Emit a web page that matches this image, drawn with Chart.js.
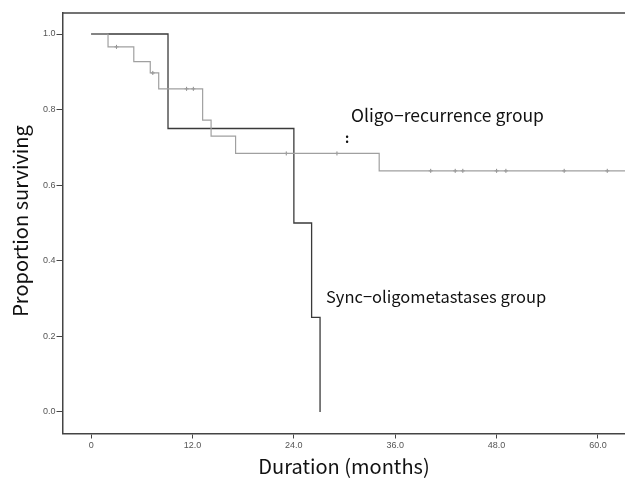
<!DOCTYPE html>
<html>
<head>
<meta charset="utf-8">
<script src="https://cdn.jsdelivr.net/npm/chart.js@4/dist/chart.umd.min.js"></script>
<style>
  html, body { margin: 0; padding: 0; background: #fff; overflow: hidden; }
  canvas { display: block; }
</style>
</head>
<body>
<canvas id="c" width="625" height="483" style="width:625px;height:483px"></canvas>
<script>
// ---- Data ----
const xTicks = [0, 12, 24, 36, 48, 60];
const yTicks = [0, 0.2, 0.4, 0.6, 0.8, 1.0];

// Sync-oligometastases group (Kaplan-Meier step points: time, survival after event)
const syncTimes    = [0, 9.1, 24.0, 26.1, 27.1];
const syncSurvival = [1.0, 0.75, 0.50, 0.25, 0.0];

// Oligo-recurrence group
const oligoTimes    = [0, 2.0, 5.05, 7.0, 8.0, 13.2, 14.2, 17.1, 34.1, 64.0];
const oligoSurvival = [1.0, 0.966, 0.927, 0.897, 0.855, 0.772, 0.730, 0.684, 0.638, 0.638];

// Censored observations (oligo-recurrence group)
const oligoCensorTimes = [3.0, 7.3, 11.3, 12.1, 23.1, 29.1, 40.2, 43.1, 44.0, 48.0, 49.1, 56.0, 61.1];

const labelOligo = 'Oligo\u2212recurrence group';
const labelSync  = 'Sync\u2212oligometastases group';
const xTitle = 'Duration (months)';
const yTitle = 'Proportion surviving';

function toPoints(ts, ss) { return ts.map((t, i) => ({ x: t, y: ss[i] })); }
function levelAt(ts, ss, t) {
  let v = ss[0];
  for (let i = 0; i < ts.length; i++) { if (ts[i] <= t) v = ss[i]; }
  return v;
}
const censorPoints = oligoCensorTimes.map(t => ({ x: t, y: levelAt(oligoTimes, oligoSurvival, t) }));

const textPlugin = {
  id: 'texts',
  afterDraw(chart) {
    const { ctx, chartArea } = chart;
    ctx.save();
    ctx.strokeStyle = '#444';
    ctx.lineWidth = 1.5;
    ctx.beginPath();
    ctx.moveTo(chartArea.left, chartArea.top);
    ctx.lineTo(chart.width + 2, chartArea.top);
    ctx.stroke();

    ctx.fillStyle = '#111';
    ctx.font = '20px "Noto Sans CJK JP", "Noto Sans", sans-serif';
    ctx.textAlign = 'center';
    ctx.textBaseline = 'middle';
    ctx.fillText(xTitle, 344, 466);
    ctx.save();
    ctx.translate(20, 221);
    ctx.rotate(-Math.PI / 2);
    ctx.fillText(yTitle, 0, 0);
    ctx.restore();

    ctx.textAlign = 'left';
    ctx.font = '17.5px "Noto Sans CJK JP", "Noto Sans", sans-serif';
    ctx.fillText(labelOligo, 351, 115);
    ctx.font = '16.5px "Noto Sans CJK JP", "Noto Sans", sans-serif';
    ctx.fillText(labelSync, 326, 297);
    ctx.font = 'bold 13px "Noto Sans CJK JP", sans-serif';
    ctx.textAlign = 'center';
    ctx.fillText(':', 347, 138);
    ctx.restore();
  }
};

new Chart(document.getElementById('c'), {
  type: 'line',
  data: {
    datasets: [
      { label: 'Oligo-recurrence', data: toPoints(oligoTimes, oligoSurvival), stepped: 'before',
        borderColor: '#a0a0a0', borderWidth: 1.2, pointRadius: 0, pointHoverRadius: 0, fill: false },
      { label: 'Oligo censored', type: 'scatter', data: censorPoints, pointStyle: 'cross', pointRadius: 2,
        pointHoverRadius: 2, borderColor: '#8a8a8a', borderWidth: 1, showLine: false },
      { label: 'Sync-oligometastases', data: toPoints(syncTimes, syncSurvival), stepped: 'before',
        borderColor: '#3a3a3a', borderWidth: 1.3, pointRadius: 0, pointHoverRadius: 0, fill: false }
    ]
  },
  options: {
    responsive: false,
    animation: false,
    devicePixelRatio: 1,
    layout: { autoPadding: false, padding: { top: 13, right: 0, left: 0, bottom: 0 } },
    plugins: { legend: { display: false }, tooltip: { enabled: false } },
    scales: {
      x: {
        type: 'linear', min: -3.39, max: 63.2,
        afterBuildTicks: s => { s.ticks = xTicks.map(v => ({ value: v })); },
        afterFit: s => { s.height = 49.5; s.paddingLeft = 0; s.paddingRight = 0; },
        ticks: { callback: v => (v === 0 ? '0' : v.toFixed(1)), color: '#555',
          font: { family: '"Liberation Sans", sans-serif', size: 9 }, maxRotation: 0, padding: 2 },
        grid: { drawOnChartArea: false, drawTicks: true, tickLength: 5, color: '#444', lineWidth: 1 },
        border: { color: '#444', width: 1.5 }
      },
      y: {
        type: 'linear', min: -0.057, max: 1.0556,
        afterBuildTicks: s => { s.ticks = yTicks.map(v => ({ value: v })); },
        afterFit: s => { s.width = 62.5; s.paddingTop = 0; s.paddingBottom = 0; },
        ticks: { callback: v => v.toFixed(1), color: '#555',
          font: { family: '"Liberation Sans", sans-serif', size: 9 }, padding: 1 },
        grid: { drawOnChartArea: false, drawTicks: true, tickLength: 6, color: '#444', lineWidth: 1 },
        border: { color: '#444', width: 1.5 }
      }
    }
  },
  plugins: [textPlugin]
});
</script>
</body>
</html>
